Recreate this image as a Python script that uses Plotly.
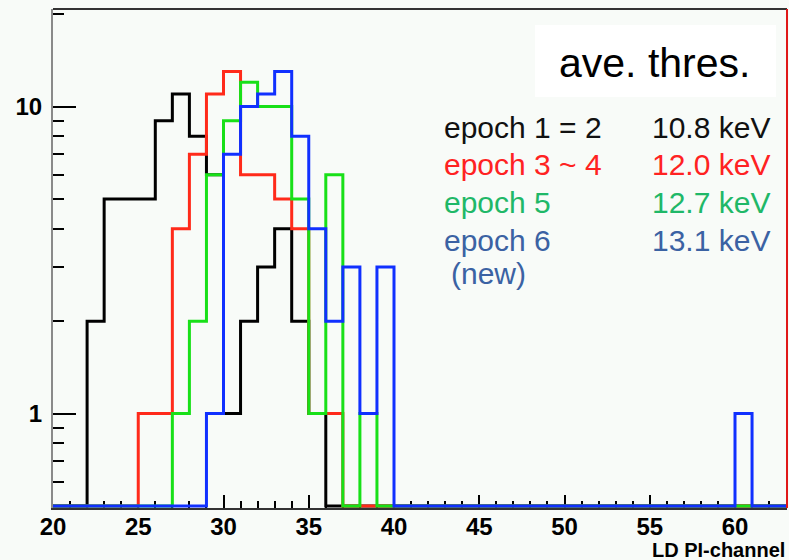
import numpy as np
import plotly.graph_objects as go

# ---------------- data ----------------
x_low, x_high = 20, 63          # histogram range (bin width 1)
y_min = 0.5                      # log-axis minimum (zero bins are drawn here)

black_bins   = [22, 23, 24, 25, 26, 27, 28, 29, 30, 31, 32, 33, 34, 35]
black_counts = [2, 5, 5, 5, 9, 11, 8, 6, 1, 2, 3, 4, 2, 1]

red_bins     = [25, 26, 27, 28, 29, 30, 31, 32, 33, 34, 35, 36]
red_counts   = [1, 1, 4, 7, 11, 13, 6, 6, 5, 4, 1, 1]

green_bins   = [27, 28, 29, 30, 31, 32, 33, 34, 35, 36, 38]
green_counts = [1, 2, 6, 9, 12, 10, 10, 5, 1, 6, 1]

blue_bins    = [29, 30, 31, 32, 33, 34, 35, 36, 37, 38, 39, 60]
blue_counts  = [1, 7, 10, 11, 13, 8, 4, 2, 3, 1, 3, 1]

x_ticks = [20, 25, 30, 35, 40, 45, 50, 55, 60]
y_ticks = [1, 10]
y_minor = [0.6, 0.7, 0.8, 0.9, 2, 3, 4, 5, 6, 7, 8, 9, 20]

labels = ["epoch 1 = 2", "epoch 3 ~ 4", "epoch 5", "epoch 6"]
thres  = ["10.8 keV", "12.0 keV", "12.7 keV", "13.1 keV"]
text_colors = ["#111111", "#ff2222", "#1fb868", "#3b62a3"]
line_colors = ["#000000", "#ff2a1a", "#18e018", "#1030ff"]

# ---------------- layout geometry (pixels) ----------------
W, H = 789, 560
L, R, T, B = 53, 787, 9, 508
PW, PH = R - L, B - T

def px(xp):
    return (xp - L) / PW

def py(yp):
    return (B - yp) / PH

edges = np.arange(x_low, x_high + 1)

def hist_line(bins, counts):
    full = np.zeros(x_high - x_low)
    for b, c in zip(bins, counts):
        full[b - x_low] = c
    yv = np.where(full > 0, full, y_min)
    yv = np.append(yv, yv[-1])
    return edges, yv

fig = go.Figure()
for (bins, counts), col in zip(
        [(black_bins, black_counts), (red_bins, red_counts),
         (green_bins, green_counts), (blue_bins, blue_counts)], line_colors):
    xs, ys = hist_line(bins, counts)
    fig.add_trace(go.Scatter(x=xs, y=ys, mode="lines", line_shape="hv",
                             line=dict(color=col, width=3),
                             showlegend=False, hoverinfo="skip"))

bg = "#f8fbf8"
tickfont = dict(family="Liberation Sans", size=24, color="black", weight="bold")

fig.update_layout(
    width=W, height=H,
    margin=dict(l=L, r=W - R, t=T, b=H - B, pad=0),
    paper_bgcolor=bg, plot_bgcolor=bg,
    showlegend=False,
    xaxis=dict(range=[x_low, 63.05], tickmode="array", tickvals=x_ticks,
               ticks="inside", ticklen=13, tickwidth=1.5, tickcolor="black",
               minor=dict(dtick=1, tick0=20, ticks="inside", ticklen=7,
                          tickwidth=1.5, tickcolor="black", showgrid=False),
               showgrid=False, zeroline=False, showline=True,
               linecolor="#333333", linewidth=2, layer="below traces",
               tickfont=tickfont, ticklabelstandoff=-4),
    yaxis=dict(type="log",
               range=[np.log10(y_min) - 2 / 307, np.log10(y_min) + (B - T) / 307 - 2 / 307],
               tickmode="array", tickvals=y_ticks, ticktext=["10" if v == 10 else "1" for v in y_ticks],
               ticks="inside", ticklen=23, tickwidth=1.5, tickcolor="black",
               minor=dict(tickvals=y_minor, ticks="inside", ticklen=11,
                          tickwidth=1.5, tickcolor="black", showgrid=False),
               showgrid=False, zeroline=False, showline=True,
               linecolor="#8a8a8a", linewidth=2, layer="below traces",
               tickfont=tickfont, ticklabelstandoff=4),
)

shapes = [
    # top frame line
    dict(type="line", xref="paper", yref="paper", x0=0, x1=1, y0=1, y1=1,
         line=dict(color="#333333", width=2)),
    # right frame line (red)
    dict(type="line", xref="paper", yref="paper", x0=1, x1=1, y0=0, y1=1,
         line=dict(color="#e01818", width=2)),
    # white box behind "ave. thres."
    dict(type="rect", xref="paper", yref="paper",
         x0=px(535), x1=px(776), y0=py(97), y1=py(25),
         fillcolor="white", line=dict(width=0), layer="above"),
]
fig.update_layout(shapes=shapes)

ann = []
ann.append(dict(text="ave. thres.", x=px(654), y=py(63), xref="paper", yref="paper",
                xanchor="center", yanchor="middle", showarrow=False,
                font=dict(family="Liberation Sans", size=41, color="black")))
row_y = [127, 164, 202, 240]
for lab, th, col, yy in zip(labels, thres, text_colors, row_y):
    ann.append(dict(text=lab, x=px(442), y=py(yy), xref="paper", yref="paper",
                    xanchor="left", yanchor="middle", showarrow=False,
                    font=dict(family="Liberation Sans", size=30, color=col)))
    ann.append(dict(text=th, x=px(650), y=py(yy), xref="paper", yref="paper",
                    xanchor="left", yanchor="middle", showarrow=False,
                    font=dict(family="Liberation Sans", size=30, color=col)))
ann.append(dict(text="(new)", x=px(449), y=py(273), xref="paper", yref="paper",
                xanchor="left", yanchor="middle", showarrow=False,
                font=dict(family="Liberation Sans", size=30, color=text_colors[3])))
ann.append(dict(text="<b>LD PI-channel</b>", x=px(787), y=py(550), xref="paper", yref="paper",
                xanchor="right", yanchor="middle", showarrow=False,
                font=dict(family="Liberation Sans", size=20, color="black")))
fig.update_layout(annotations=ann)

fig.write_html("out.html")
